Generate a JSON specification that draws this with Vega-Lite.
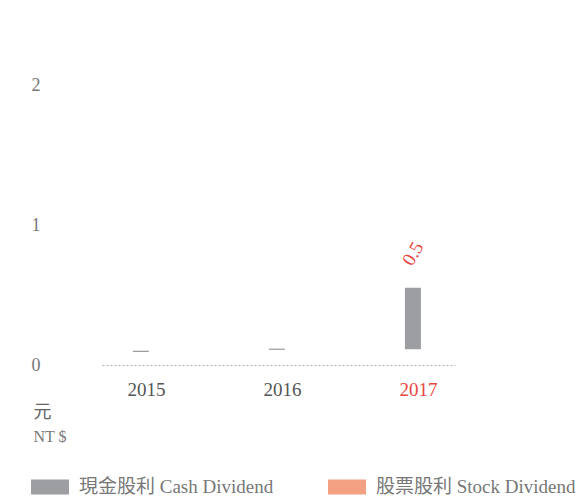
{
  "$schema": "https://vega.github.io/schema/vega-lite/v6.json",
  "autosize": "none",
  "width": 353,
  "height": 350,
  "padding": {"left": 102, "top": 15, "right": 131, "bottom": 135},
  "background": "#ffffff",
  "config": {
    "view": {"stroke": null},
    "font": "Liberation Serif, Noto Sans CJK TC"
  },
  "data": {
    "values": [
      {"year": 2015, "series": "現金股利 Cash Dividend", "lo": 0.093, "hi": 0.102, "label": ""},
      {"year": 2016, "series": "現金股利 Cash Dividend", "lo": 0.108, "hi": 0.117, "label": ""},
      {"year": 2017, "series": "現金股利 Cash Dividend", "lo": 0.112, "hi": 0.552, "label": "0.5"},
      {"year": 2015, "series": "股票股利 Stock Dividend", "lo": null, "hi": null, "label": ""},
      {"year": 2016, "series": "股票股利 Stock Dividend", "lo": null, "hi": null, "label": ""},
      {"year": 2017, "series": "股票股利 Stock Dividend", "lo": null, "hi": null, "label": ""}
    ]
  },
  "encoding": {
    "x": {
      "field": "year",
      "type": "quantitative",
      "scale": {"domain": [2014.714, 2017.236], "nice": false, "zero": false},
      "axis": {
        "values": [2015, 2016, 2017],
        "format": "d",
        "ticks": false,
        "grid": false,
        "domain": true,
        "domainDash": [2, 2],
        "domainColor": "#b0b0b0",
        "domainWidth": 1,
        "labelFontSize": 19,
        "labelPadding": 15,
        "labelColor": {"expr": "datum.value == 2017 ? '#e8463f' : '#555555'"},
        "title": "NT $",
        "titleFontSize": 16,
        "titleFontWeight": "normal",
        "titleColor": "#777777",
        "titleAngle": 0,
        "titleAlign": "left",
        "titleBaseline": "middle",
        "titleX": -69,
        "titleY": 71
      }
    },
    "y": {
      "field": "hi",
      "type": "quantitative",
      "scale": {"domain": [0, 2.5], "nice": false},
      "axis": {
        "values": [0, 1, 2],
        "ticks": false,
        "grid": false,
        "domain": false,
        "labelFontSize": 18,
        "labelColor": "#777777",
        "labelPadding": 62,
        "title": "元",
        "titleFontSize": 18,
        "titleFontWeight": "normal",
        "titleColor": "#666666",
        "titleAngle": 0,
        "titleAlign": "left",
        "titleBaseline": "middle",
        "titleX": -69,
        "titleY": 397
      }
    }
  },
  "layer": [
    {
      "mark": {"type": "bar", "width": 16, "xOffset": -5},
      "encoding": {
        "y2": {"field": "lo"},
        "color": {
          "field": "series",
          "type": "nominal",
          "scale": {
            "domain": ["現金股利 Cash Dividend", "股票股利 Stock Dividend"],
            "range": ["#9d9ea2", "#f4a083"]
          },
          "legend": {
            "title": null,
            "orient": "none",
            "direction": "horizontal",
            "legendX": -71,
            "legendY": 453,
            "symbolType": "M-1,-0.4H1V0.4H-1Z",
            "symbolSize": 1444,
            "symbolStrokeWidth": 0,
            "symbolOpacity": 1,
            "labelFontSize": 19,
            "labelColor": "#777777",
            "labelBaseline": "middle",
            "labelOffset": 10,
            "labelLimit": 400,
            "columnPadding": 54
          }
        }
      }
    },
    {
      "mark": {
        "type": "text",
        "angle": 300,
        "align": "center",
        "baseline": "middle",
        "fontSize": 19,
        "color": "#e8463f",
        "xOffset": -5,
        "yOffset": -34
      },
      "encoding": {
        "text": {"field": "label"}
      }
    }
  ]
}
